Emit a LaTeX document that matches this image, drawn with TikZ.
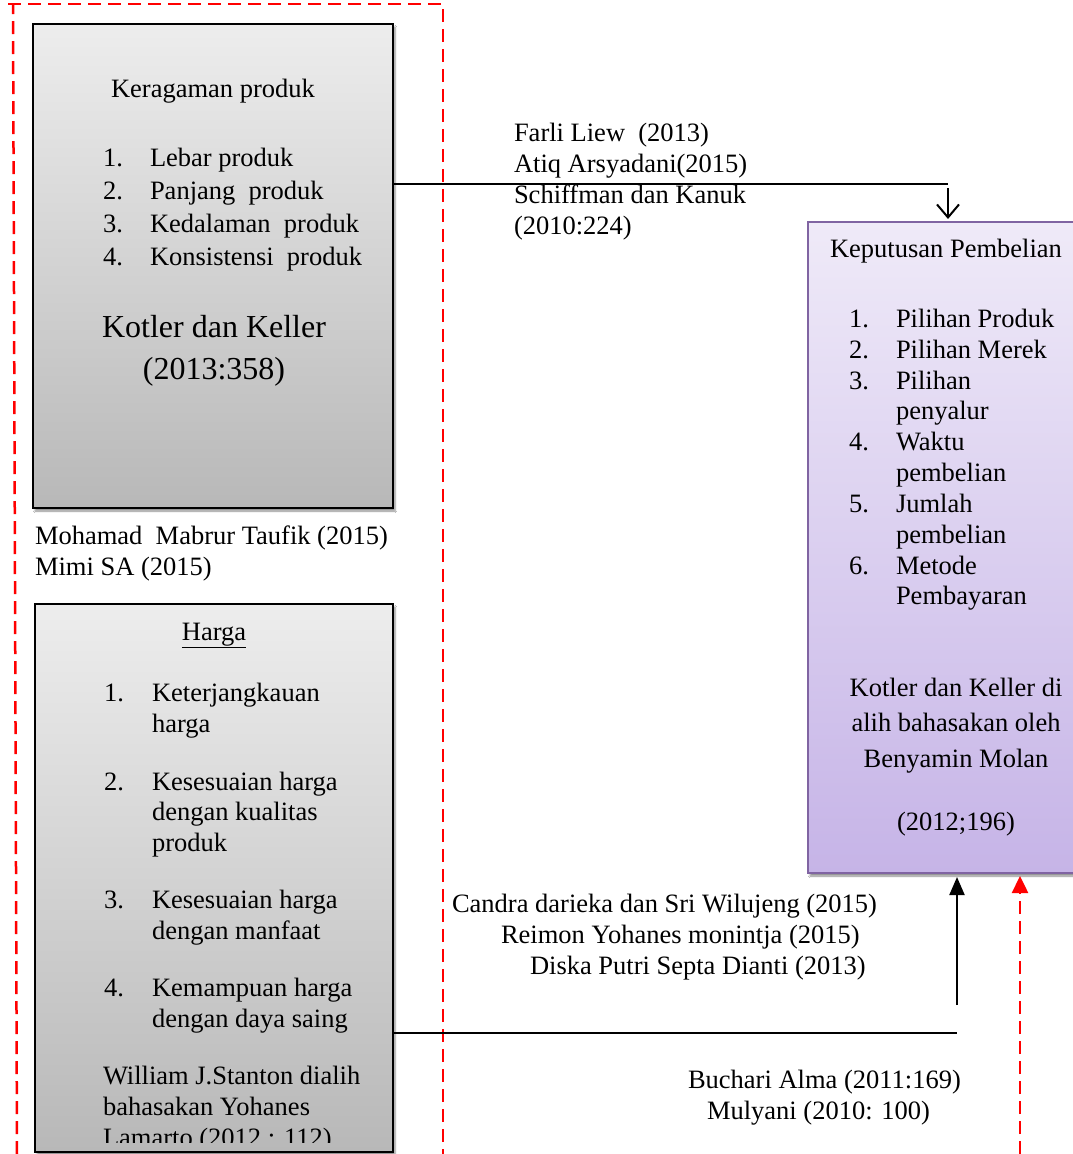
\documentclass[tikz,border=0pt]{standalone}
\usepackage{fontspec}
\setmainfont{Liberation Serif}
\usetikzlibrary{arrows.meta,shadows.blur}
\definecolor{gtop}{HTML}{EDEDED}
\definecolor{gbot}{HTML}{B8B8B8}
\definecolor{ptop}{HTML}{EFEAF8}
\definecolor{pbot}{HTML}{C6B4E7}
\definecolor{pbord}{HTML}{8064A2}
\definecolor{dred}{HTML}{FF0000}
\begin{document}
\begin{tikzpicture}[x=1pt,y=-1pt,
  txt/.style={font=\fontsize{26.5}{31}\selectfont, inner sep=0pt, outer sep=0pt, text=black},
  bigtxt/.style={font=\fontsize{32}{40}\selectfont, inner sep=0pt, outer sep=0pt, text=black},
  graybox/.style={draw=black, line width=2pt, top color=gtop, bottom color=gbot, anchor=north west, inner sep=0pt, outer sep=0pt,
    blur shadow={shadow xshift=2pt, shadow yshift=-3pt, shadow blur steps=6, shadow opacity=45}},
  purplebox/.style={draw=pbord, line width=2pt, top color=ptop, bottom color=pbot, anchor=north west, inner sep=0pt, outer sep=0pt,
    blur shadow={shadow xshift=2pt, shadow yshift=-3pt, shadow blur steps=6, shadow opacity=45}},
  conn/.style={draw=black, line width=2pt},
  reddash/.style={draw=dred, line width=2.5pt, dash pattern=on 13pt off 7pt}
]
\useasboundingbox (0,0) rectangle (1073,1154);
\fill[white] (0,0) rectangle (1073,1154);

% red dashed frame
\coordinate (f1) at (17,1154);
\coordinate (f2) at (13,4);
\coordinate (f3) at (443,4);
\coordinate (f4) at (443,1154);
\draw[reddash] (f1) -- (f2);
\draw[reddash] (8,4) -- (f3) -- (f4);

% boxes
\node[graybox, minimum width=360pt, minimum height=484pt] (kr) at (33,24) {};
\node[graybox, minimum width=358pt, minimum height=548pt] (hg) at (35,604) {};
\node[purplebox, minimum width=300pt, minimum height=651pt] (kp) at (808,222) {};

% box 1 text
\node[txt, anchor=base] (krt) at (213,97) {Keragaman produk};
\node[txt, anchor=base west] (kr1n) at (103,166) {1.};
\node[txt, anchor=base west] (kr1) at (150,166) {Lebar produk};
\node[txt, anchor=base west] (kr2n) at (103,199) {2.};
\node[txt, anchor=base west] (kr2) at (150,199) {Panjang\ \ produk};
\node[txt, anchor=base west] (kr3n) at (103,232) {3.};
\node[txt, anchor=base west] (kr3) at (150,232) {Kedalaman\ \ produk};
\node[txt, anchor=base west] (kr4n) at (103,265) {4.};
\node[txt, anchor=base west] (kr4) at (150,265) {Konsistensi\ \ produk};
\node[bigtxt, anchor=base] (krs1) at (214,337) {Kotler dan Keller};
\node[bigtxt, anchor=base] (krs2) at (214,379) {(2013:358)};

% between boxes
\node[txt, anchor=base west] (m1) at (35,544) {Mohamad\ \ Mabrur Taufik (2015)};
\node[txt, anchor=base west] (m2) at (35,575) {Mimi SA (2015)};

% box 2 text (clipped)
\begin{scope}
\clip (36,605) rectangle (392,1142);
\node[txt, anchor=base] (hgt) at (214,640) {\underline{Harga}};
\node[txt, anchor=base west] (h1n) at (104,701) {1.};
\node[txt, anchor=base west] (h1a) at (152,701) {Keterjangkauan};
\node[txt, anchor=base west] (h1b) at (152,732) {harga};
\node[txt, anchor=base west] (h2n) at (104,790) {2.};
\node[txt, anchor=base west] (h2a) at (152,790) {Kesesuaian harga};
\node[txt, anchor=base west] (h2b) at (152,820) {dengan kualitas};
\node[txt, anchor=base west] (h2c) at (152,851) {produk};
\node[txt, anchor=base west] (h3n) at (104,908) {3.};
\node[txt, anchor=base west] (h3a) at (152,908) {Kesesuaian harga};
\node[txt, anchor=base west] (h3b) at (152,939) {dengan manfaat};
\node[txt, anchor=base west] (h4n) at (104,996) {4.};
\node[txt, anchor=base west] (h4a) at (152,996) {Kemampuan harga};
\node[txt, anchor=base west] (h4b) at (152,1027) {dengan daya saing};
\node[txt, anchor=base west] (hs1) at (103,1084) {William J.Stanton dialih};
\node[txt, anchor=base west] (hs2) at (103,1115) {bahasakan Yohanes};
\node[txt, anchor=base west] (hs3) at (103,1146) {Lamarto (2012 : 112)};
\end{scope}

% right box text
\node[txt, anchor=base] (kpt) at (946,257) {Keputusan Pembelian};
\node[txt, anchor=base west] (p1n) at (849,327) {1.};
\node[txt, anchor=base west] (p1) at (896,327) {Pilihan Produk};
\node[txt, anchor=base west] (p2n) at (849,358) {2.};
\node[txt, anchor=base west] (p2) at (896,358) {Pilihan Merek};
\node[txt, anchor=base west] (p3n) at (849,389) {3.};
\node[txt, anchor=base west] (p3a) at (896,389) {Pilihan};
\node[txt, anchor=base west] (p3b) at (896,419) {penyalur};
\node[txt, anchor=base west] (p4n) at (849,450) {4.};
\node[txt, anchor=base west] (p4a) at (896,450) {Waktu};
\node[txt, anchor=base west] (p4b) at (896,481) {pembelian};
\node[txt, anchor=base west] (p5n) at (849,512) {5.};
\node[txt, anchor=base west] (p5a) at (896,512) {Jumlah};
\node[txt, anchor=base west] (p5b) at (896,543) {pembelian};
\node[txt, anchor=base west] (p6n) at (849,574) {6.};
\node[txt, anchor=base west] (p6a) at (896,574) {Metode};
\node[txt, anchor=base west] (p6b) at (896,604) {Pembayaran};
\node[txt, anchor=base] (ps1) at (956,696) {Kotler dan Keller di};
\node[txt, anchor=base] (ps2) at (956,731) {alih bahasakan oleh};
\node[txt, anchor=base] (ps3) at (956,767) {Benyamin Molan};
\node[txt, anchor=base] (ps4) at (956,830) {(2012;196)};

% top citations
\node[txt, anchor=base west] (t1) at (514,141) {Farli Liew\ \ (2013)};
\node[txt, anchor=base west] (t2) at (514,172) {Atiq Arsyadani(2015)};
\node[txt, anchor=base west] (t3) at (514,203) {Schiffman dan Kanuk};
\node[txt, anchor=base west] (t4) at (514,234) {(2010:224)};

% bottom citations
\node[txt, anchor=base west] (b1) at (452,912) {Candra darieka dan Sri Wilujeng (2015)};
\node[txt, anchor=base west] (b2) at (501,943) {Reimon Yohanes monintja (2015)};
\node[txt, anchor=base west] (b3) at (530,974) {Diska Putri Septa Dianti (2013)};
\node[txt, anchor=base west] (b4) at (688,1088) {Buchari Alma (2011:169)};
\node[txt, anchor=base west] (b5) at (707,1119) {Mulyani (2010: 100)};

% connectors
\coordinate (c1) at (948,184);
\coordinate (c1b) at (948,188);
\draw[conn] (kr.east |- c1) -- (c1);
\draw[conn, -{Straight Barb[length=13pt,width=22pt,line width=2pt]}] (c1b) -- ([yshift=3pt]kp.north -| c1b);

\coordinate (c2) at (957,1033);
\coordinate (c2b) at (957,1005);
\draw[conn] (hg.east |- c2) -- (c2);
\draw[conn, -{Triangle[length=18pt,width=15pt]}] (c2b) -- ([yshift=-4pt]kp.south -| c2b);

\coordinate (r1) at (1020,1154);
\draw[reddash, -{Triangle[length=17pt,width=16pt,fill=dred]}] (r1) -- ([yshift=-3pt]kp.south -| r1);
\end{tikzpicture}
\end{document}
